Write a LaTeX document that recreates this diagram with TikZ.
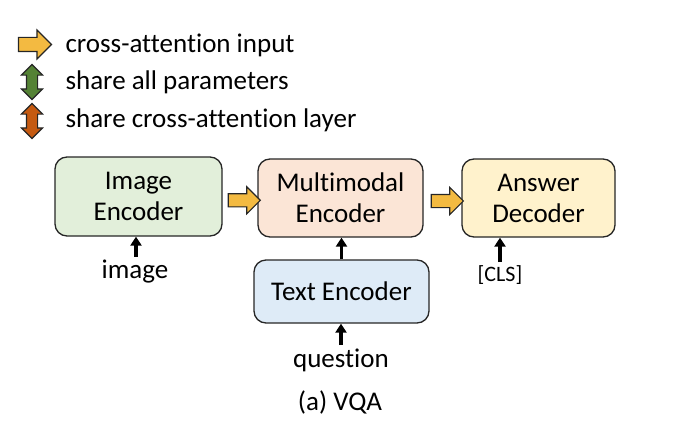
\documentclass[tikz,border=0pt]{standalone}
\usepackage{fontspec}
\setmainfont{Carlito}[Ligatures=NoCommon]
\usepackage{tikz}
\usetikzlibrary{shapes.arrows, arrows.meta, calc}

\definecolor{encgreen}{HTML}{E2EFDA}
\definecolor{encpeach}{HTML}{FBE5D6}
\definecolor{encblue}{HTML}{DEEBF7}
\definecolor{decyellow}{HTML}{FFF2CC}
\definecolor{xyellow}{HTML}{F3BA41}
\definecolor{sgreen}{HTML}{548235}
\definecolor{sbrown}{HTML}{C55A11}

\begin{document}
\begin{tikzpicture}[x=1pt, y=-1pt,
	box/.style={draw=black!85, line width=1.3pt, rounded corners=12pt, align=center, font=\fontsize{27}{31}\selectfont},
	lbl/.style={font=\fontsize{27}{31}\selectfont},
	fwd/.style={draw=black!85, line width=1.1pt, fill=xyellow, single arrow, single arrow head extend=7pt, inner sep=6pt, minimum height=32pt},
	share/.style={draw=black!85, line width=1.1pt, double arrow, shape border rotate=90, double arrow head extend=5pt, inner sep=5pt, minimum height=35pt},
	up/.style={-{Triangle[length=9pt, width=11pt]}, line width=3.2pt}]
	\useasboundingbox (0,0) rectangle (700,436);
	% legend
	\node[fwd, minimum height=33pt, inner sep=6.5pt, single arrow head extend=7.5pt] (keyx) at (31.5,44.5) {};
	\node[lbl, anchor=west] (keyxt) at (62,45) {cross-attention input};
	\node[share, fill=sgreen] (keys) at (32,82) {};
	\node[lbl, anchor=west] (keyst) at (62,82) {share all parameters};
	\node[share, fill=sbrown] (keyc) at (32,121) {};
	\node[lbl, anchor=west] (keyct) at (62,120) {share cross-attention layer};
	% model
	\node[box, fill=encgreen, minimum width=167pt, minimum height=79pt] (ienc) at (138.5,196.5) {Image\\Encoder};
	\node[box, fill=encpeach, minimum width=165pt, minimum height=78pt] (menc) at (340.5,198) {Multimodal\\Encoder};
	\node[box, fill=decyellow, minimum width=153pt, minimum height=78pt] (adec) at (538.5,198) {Answer\\Decoder};
	\node[box, fill=encblue, minimum width=175pt, minimum height=63pt] (tenc) at (341.5,291.5) {Text Encoder};
	\node[fwd] (x1) at ($(ienc.east)!0.5!(menc.west)+(1,3)$) {};
	\node[fwd] (x2) at ($(menc.east)!0.5!(adec.west)+(1.5,3)$) {};
	% inputs
	\node[lbl] (imgin) at (135,272) {image};
	\node[font=\fontsize{22}{26}\selectfont] (clsin) at (500,275) {[CLS]};
	\node[lbl] (qin) at (341,360) {question};
	\node[lbl] (cap) at (340,402) {(a) VQA};
	\draw[up] ([xshift=1pt]imgin.north) -- ([xshift=1pt]imgin.north |- ienc.south);
	\draw[up] (tenc.north) -- (tenc.north |- menc.south);
	\draw[up] (clsin.north) -- (clsin.north |- adec.south);
	\draw[up] (qin.north) -- (qin.north |- tenc.south);
\end{tikzpicture}
\end{document}
